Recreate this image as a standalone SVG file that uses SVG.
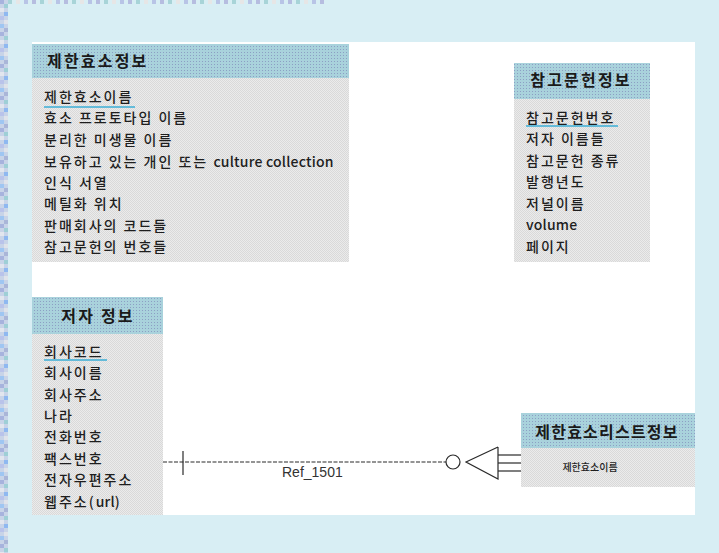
<svg xmlns="http://www.w3.org/2000/svg" width="719" height="553" viewBox="0 0 719 553">
<defs>
  <pattern id="hdr" width="3" height="3" patternUnits="userSpaceOnUse">
    <rect width="3" height="3" fill="#a9d2dc"/>
    <rect x="1" y="1" width="1" height="1" fill="#8c9fc4"/>
  </pattern>
  <pattern id="bdy" width="2" height="2" patternUnits="userSpaceOnUse">
    <rect width="2" height="2" fill="#ebebeb"/>
    <rect width="1" height="1" fill="#d9d9d9"/>
    <rect x="1" y="1" width="1" height="1" fill="#d9d9d9"/>
  </pattern>
  <pattern id="noise" width="8" height="32" patternUnits="userSpaceOnUse">
    <rect width="8" height="32" fill="#c8d4e8"/>
    <rect x="0" y="0" width="4" height="4" fill="#a7b3dd"/>
    <rect x="4" y="4" width="4" height="4" fill="#9fcfd6"/>
    <rect x="0" y="8" width="4" height="4" fill="#e2e6ee"/>
    <rect x="4" y="12" width="4" height="4" fill="#8fb8f0"/>
    <rect x="0" y="16" width="4" height="4" fill="#b9c3ea"/>
    <rect x="4" y="20" width="4" height="4" fill="#dfe3ea"/>
    <rect x="0" y="24" width="4" height="4" fill="#9fc6f2"/>
    <rect x="4" y="28" width="4" height="4" fill="#aab6d8"/>
  </pattern>
  <pattern id="noiseTop" width="32" height="4" patternUnits="userSpaceOnUse">
    <rect width="32" height="4" fill="#d8eef4"/>
    <rect x="0" width="4" height="4" fill="#b6bde0"/>
    <rect x="8" width="4" height="4" fill="#a8d4d8"/>
    <rect x="16" width="4" height="4" fill="#e6e6e6"/>
    <rect x="24" width="4" height="4" fill="#b8c4e6"/>
  </pattern>
</defs>
<style>
  .hdr { fill: url(#hdr); }
  .bdy { fill: url(#bdy); }
  .ht { font-family: "Noto Sans CJK KR", "Liberation Sans", sans-serif; font-size: 16px; font-weight: bold; fill: #1a1a1a; letter-spacing: 2.2px; }
  .at { font-family: "Noto Sans CJK KR", "Liberation Sans", sans-serif; font-size: 14px; font-weight: 500; fill: #1e1e1e; letter-spacing: 2px; }
  .lat { letter-spacing: 0.2px; }
  .key { stroke: #3aaed6; stroke-width: 1.5; }
  .conn { fill: none; stroke: #2a2a2a; stroke-width: 1.2; }
  .lbl { font-family: "Liberation Sans", "Noto Sans CJK KR", sans-serif; font-size: 14px; fill: #333; }
</style>
<rect width="719" height="553" fill="#d8eef4"/>
<rect x="0" y="0" width="8" height="553" fill="url(#noise)"/>
<rect x="8" y="0" width="320" height="4" fill="url(#noiseTop)"/>
<rect x="32" y="42" width="663" height="473" fill="#ffffff"/>

<g id="entity-restriction-enzyme-info">
  <rect x="32" y="44" width="317" height="34" class="hdr"/>
  <rect x="32" y="78" width="317" height="184" class="bdy"/>
  <text x="47" y="67" class="ht">제한효소정보</text>
  <text x="44" y="102" class="at">제한효소이름</text>
  <line x1="44" y1="107" x2="135" y2="107" class="key"/>
  <text x="44" y="123" class="at">효소 프로토타입 이름</text>
  <text x="44" y="145" class="at">분리한 미생물 이름</text>
  <text x="44" y="167" class="at">보유하고 있는 개인 또는 <tspan class="lat">culture collection</tspan></text>
  <text x="44" y="188" class="at">인식 서열</text>
  <text x="44" y="209" class="at">메틸화 위치</text>
  <text x="44" y="231" class="at">판매회사의 코드들</text>
  <text x="44" y="252" class="at">참고문헌의 번호들</text>
</g>

<g id="entity-reference-info">
  <rect x="514" y="63" width="136" height="36" class="hdr"/>
  <rect x="514" y="99" width="136" height="163" class="bdy"/>
  <text x="581" y="86" class="ht" text-anchor="middle">참고문헌정보</text>
  <text x="526" y="123" class="at">참고문헌번호</text>
  <line x1="526" y1="126" x2="618" y2="126" class="key"/>
  <text x="526" y="144" class="at">저자 이름들</text>
  <text x="526" y="166" class="at">참고문헌 종류</text>
  <text x="526" y="187" class="at">발행년도</text>
  <text x="526" y="209" class="at">저널이름</text>
  <text x="526" y="230" class="at"><tspan class="lat">volume</tspan></text>
  <text x="526" y="252" class="at">페이지</text>
</g>

<g id="entity-author-info">
  <rect x="32" y="297" width="131" height="37" class="hdr"/>
  <rect x="32" y="334" width="131" height="181" class="bdy"/>
  <text x="98" y="322" class="ht" text-anchor="middle">저자 정보</text>
  <text x="44" y="357" class="at">회사코드</text>
  <line x1="44" y1="360" x2="107" y2="360" class="key"/>
  <text x="44" y="378" class="at">회사이름</text>
  <text x="44" y="400" class="at">회사주소</text>
  <text x="44" y="421" class="at">나라</text>
  <text x="44" y="442" class="at">전화번호</text>
  <text x="44" y="464" class="at">팩스번호</text>
  <text x="44" y="485" class="at">전자우편주소</text>
  <text x="44" y="507" class="at">웹주소(<tspan class="lat">url</tspan>)</text>
</g>

<g id="entity-restriction-enzyme-list-info">
  <rect x="521" y="413" width="174" height="35" class="hdr"/>
  <rect x="521" y="448" width="174" height="39" class="bdy"/>
  <text x="607" y="438" class="ht" text-anchor="middle" style="letter-spacing:1.2px">제한효소리스트정보</text>
  <text x="590" y="471" class="at" text-anchor="middle" style="font-size:10px;letter-spacing:0px">제한효소이름</text>
</g>

<g id="connectors">
  <line x1="163" y1="462" x2="446" y2="462" class="conn" stroke-dasharray="4 1.5"/>
  <line x1="183" y1="451" x2="183" y2="475" class="conn"/>
  <circle cx="453" cy="462" r="7" class="conn"/>
  <polyline points="498,447 466,462 498,479 498,447" class="conn"/>
  <line x1="498" y1="455" x2="521" y2="455" class="conn"/>
  <line x1="498" y1="463" x2="521" y2="463" class="conn"/>
  <line x1="498" y1="471" x2="521" y2="471" class="conn"/>
  <text x="282" y="477" class="lbl">Ref_1501</text>
</g>
</svg>
